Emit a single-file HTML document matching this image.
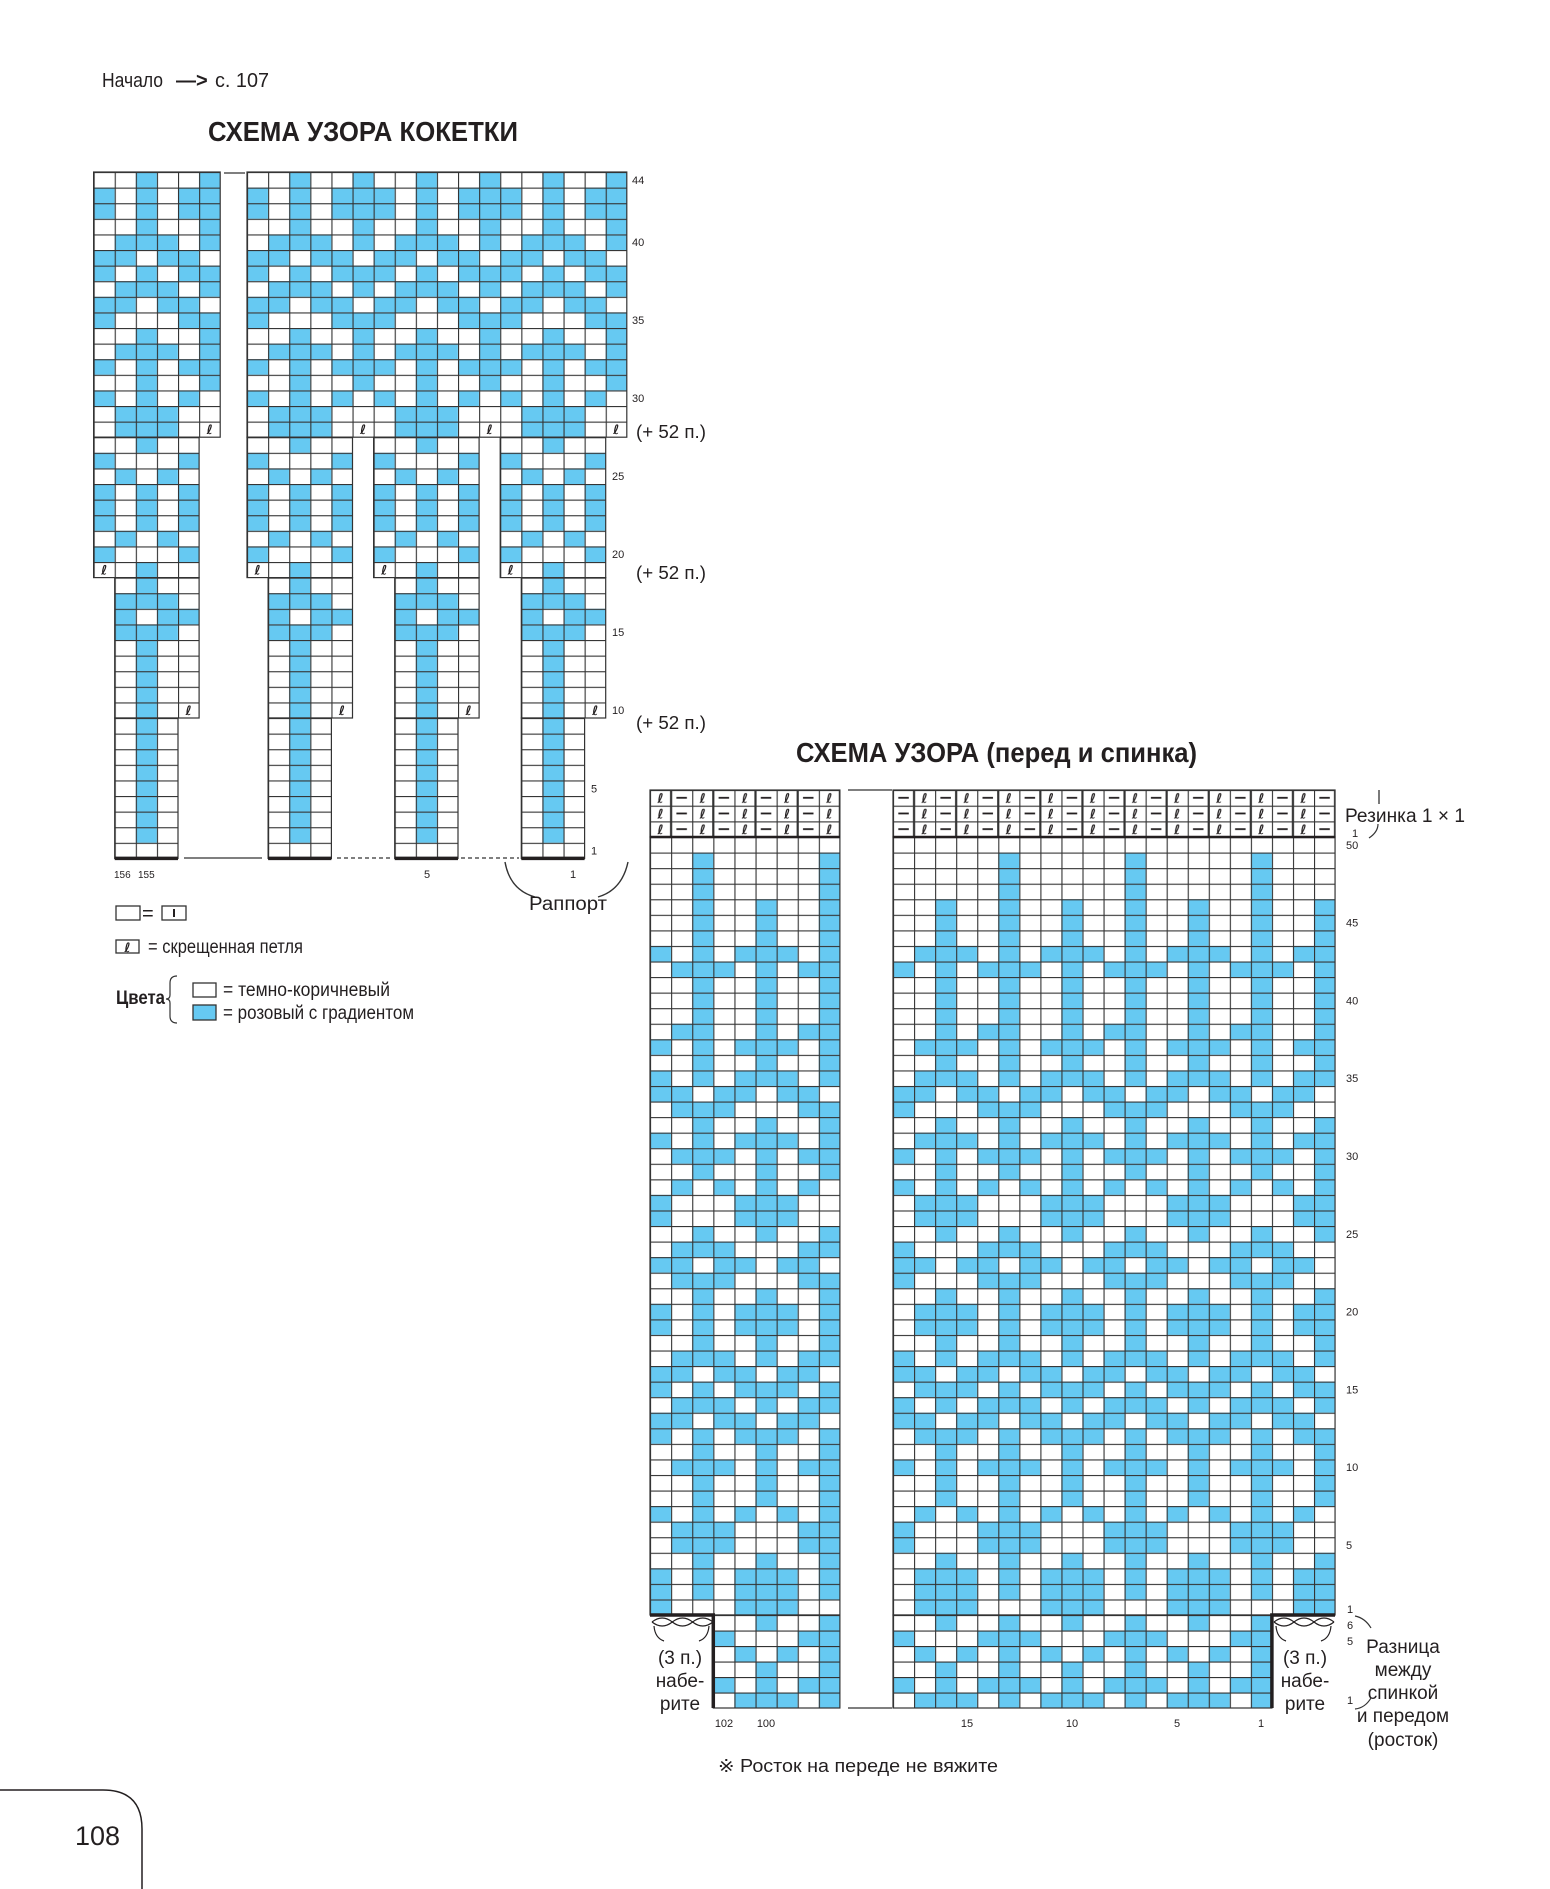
<!DOCTYPE html>
<html><head><meta charset="utf-8"><style>
html,body{margin:0;padding:0;background:#fff}
svg{display:block}
text{font-family:"Liberation Sans Narrow","Liberation Sans",sans-serif;fill:#231f20}
.l{font-family:"Liberation Sans",sans-serif;font-weight:300}
.bp rect{fill:#66c9f2}
.lp{font-family:"DejaVu Sans",sans-serif;font-weight:bold;font-size:13px}
.gr{stroke:#333;stroke-width:1.2}
</style></head><body>
<svg width="1550" height="1889" viewBox="0 0 1550 1889">
<defs>
<pattern id="r1" class="bp" patternUnits="userSpaceOnUse" x="893" y="0" width="126.3" height="2000"><rect x="105.25" width="21.05" height="2000"/></pattern>
<pattern id="r2" class="bp" patternUnits="userSpaceOnUse" x="893" y="0" width="126.3" height="2000"><rect x="42.1" width="21.05" height="2000"/><rect x="105.25" width="21.05" height="2000"/></pattern>
<pattern id="r3" class="bp" patternUnits="userSpaceOnUse" x="893" y="0" width="126.3" height="2000"><rect x="21.05" width="63.15" height="2000"/><rect x="105.25" width="21.05" height="2000"/></pattern>
<pattern id="r4" class="bp" patternUnits="userSpaceOnUse" x="893" y="0" width="126.3" height="2000"><rect x="0" width="21.05" height="2000"/><rect x="42.1" width="21.05" height="2000"/><rect x="84.2" width="42.1" height="2000"/></pattern>
<pattern id="r5" class="bp" patternUnits="userSpaceOnUse" x="893" y="0" width="126.3" height="2000"><rect x="42.1" width="21.05" height="2000"/><rect x="84.2" width="42.1" height="2000"/></pattern>
<pattern id="r6" class="bp" patternUnits="userSpaceOnUse" x="893" y="0" width="126.3" height="2000"><rect x="0" width="42.1" height="2000"/><rect x="63.15" width="42.1" height="2000"/></pattern>
<pattern id="r7" class="bp" patternUnits="userSpaceOnUse" x="893" y="0" width="126.3" height="2000"><rect x="0" width="21.05" height="2000"/><rect x="84.2" width="42.1" height="2000"/></pattern>
<pattern id="r8" class="bp" patternUnits="userSpaceOnUse" x="893" y="0" width="126.3" height="2000"><rect x="0" width="21.05" height="2000"/><rect x="42.1" width="21.05" height="2000"/><rect x="84.2" width="21.05" height="2000"/></pattern>
<pattern id="r9" class="bp" patternUnits="userSpaceOnUse" x="893" y="0" width="126.3" height="2000"><rect x="21.05" width="63.15" height="2000"/></pattern>
<pattern id="r10" class="bp" patternUnits="userSpaceOnUse" x="893" y="0" width="126.3" height="2000"><rect x="21.05" width="21.05" height="2000"/><rect x="63.15" width="21.05" height="2000"/><rect x="105.25" width="21.05" height="2000"/></pattern>
<pattern id="l1" class="bp" patternUnits="userSpaceOnUse" x="586.7" y="0" width="126.6" height="2000"><rect x="105.5" width="21.1" height="2000"/></pattern>
<pattern id="l2" class="bp" patternUnits="userSpaceOnUse" x="586.7" y="0" width="126.6" height="2000"><rect x="42.2" width="21.1" height="2000"/><rect x="105.5" width="21.1" height="2000"/></pattern>
<pattern id="l3" class="bp" patternUnits="userSpaceOnUse" x="586.7" y="0" width="126.6" height="2000"><rect x="21.1" width="63.3" height="2000"/><rect x="105.5" width="21.1" height="2000"/></pattern>
<pattern id="l4" class="bp" patternUnits="userSpaceOnUse" x="586.7" y="0" width="126.6" height="2000"><rect x="0" width="21.1" height="2000"/><rect x="42.2" width="21.1" height="2000"/><rect x="84.4" width="42.2" height="2000"/></pattern>
<pattern id="l5" class="bp" patternUnits="userSpaceOnUse" x="586.7" y="0" width="126.6" height="2000"><rect x="42.2" width="21.1" height="2000"/><rect x="84.4" width="42.2" height="2000"/></pattern>
<pattern id="l6" class="bp" patternUnits="userSpaceOnUse" x="586.7" y="0" width="126.6" height="2000"><rect x="0" width="42.2" height="2000"/><rect x="63.3" width="42.2" height="2000"/></pattern>
<pattern id="l7" class="bp" patternUnits="userSpaceOnUse" x="586.7" y="0" width="126.6" height="2000"><rect x="0" width="21.1" height="2000"/><rect x="84.4" width="42.2" height="2000"/></pattern>
<pattern id="l8" class="bp" patternUnits="userSpaceOnUse" x="586.7" y="0" width="126.6" height="2000"><rect x="0" width="21.1" height="2000"/><rect x="42.2" width="21.1" height="2000"/><rect x="84.4" width="21.1" height="2000"/></pattern>
<pattern id="l9" class="bp" patternUnits="userSpaceOnUse" x="586.7" y="0" width="126.6" height="2000"><rect x="21.1" width="63.3" height="2000"/></pattern>
<pattern id="l10" class="bp" patternUnits="userSpaceOnUse" x="586.7" y="0" width="126.6" height="2000"><rect x="21.1" width="21.1" height="2000"/><rect x="63.3" width="21.1" height="2000"/><rect x="105.5" width="21.1" height="2000"/></pattern>
<pattern id="a2" class="bp" patternUnits="userSpaceOnUse" x="93.6" y="0" width="126.6" height="2000"><rect x="42.2" width="21.1" height="2000"/><rect x="105.5" width="21.1" height="2000"/></pattern>
<pattern id="a3" class="bp" patternUnits="userSpaceOnUse" x="93.6" y="0" width="126.6" height="2000"><rect x="21.1" width="63.3" height="2000"/><rect x="105.5" width="21.1" height="2000"/></pattern>
<pattern id="a4" class="bp" patternUnits="userSpaceOnUse" x="93.6" y="0" width="126.6" height="2000"><rect x="0" width="21.1" height="2000"/><rect x="42.2" width="21.1" height="2000"/><rect x="84.4" width="42.2" height="2000"/></pattern>
<pattern id="a6" class="bp" patternUnits="userSpaceOnUse" x="93.6" y="0" width="126.6" height="2000"><rect x="0" width="42.2" height="2000"/><rect x="63.3" width="42.2" height="2000"/></pattern>
<pattern id="a7" class="bp" patternUnits="userSpaceOnUse" x="93.6" y="0" width="126.6" height="2000"><rect x="0" width="21.1" height="2000"/><rect x="84.4" width="42.2" height="2000"/></pattern>
<pattern id="a8" class="bp" patternUnits="userSpaceOnUse" x="93.6" y="0" width="126.6" height="2000"><rect x="0" width="21.1" height="2000"/><rect x="42.2" width="21.1" height="2000"/><rect x="84.4" width="21.1" height="2000"/></pattern>
<pattern id="a9" class="bp" patternUnits="userSpaceOnUse" x="93.6" y="0" width="126.6" height="2000"><rect x="21.1" width="63.3" height="2000"/></pattern>
<pattern id="a11" class="bp" patternUnits="userSpaceOnUse" x="93.6" y="0" width="126.6" height="2000"><rect x="42.2" width="21.1" height="2000"/></pattern>
<pattern id="a12" class="bp" patternUnits="userSpaceOnUse" x="93.6" y="0" width="126.6" height="2000"><rect x="0" width="21.1" height="2000"/><rect x="84.4" width="21.1" height="2000"/></pattern>
<pattern id="a13" class="bp" patternUnits="userSpaceOnUse" x="93.6" y="0" width="126.6" height="2000"><rect x="21.1" width="21.1" height="2000"/><rect x="63.3" width="21.1" height="2000"/></pattern>
<pattern id="a14" class="bp" patternUnits="userSpaceOnUse" x="93.6" y="0" width="126.6" height="2000"><rect x="21.1" width="21.1" height="2000"/><rect x="63.3" width="42.2" height="2000"/></pattern>
<pattern id="b2" class="bp" patternUnits="userSpaceOnUse" x="247" y="0" width="126.6" height="2000"><rect x="42.2" width="21.1" height="2000"/><rect x="105.5" width="21.1" height="2000"/></pattern>
<pattern id="b3" class="bp" patternUnits="userSpaceOnUse" x="247" y="0" width="126.6" height="2000"><rect x="21.1" width="63.3" height="2000"/><rect x="105.5" width="21.1" height="2000"/></pattern>
<pattern id="b4" class="bp" patternUnits="userSpaceOnUse" x="247" y="0" width="126.6" height="2000"><rect x="0" width="21.1" height="2000"/><rect x="42.2" width="21.1" height="2000"/><rect x="84.4" width="42.2" height="2000"/></pattern>
<pattern id="b6" class="bp" patternUnits="userSpaceOnUse" x="247" y="0" width="126.6" height="2000"><rect x="0" width="42.2" height="2000"/><rect x="63.3" width="42.2" height="2000"/></pattern>
<pattern id="b7" class="bp" patternUnits="userSpaceOnUse" x="247" y="0" width="126.6" height="2000"><rect x="0" width="21.1" height="2000"/><rect x="84.4" width="42.2" height="2000"/></pattern>
<pattern id="b8" class="bp" patternUnits="userSpaceOnUse" x="247" y="0" width="126.6" height="2000"><rect x="0" width="21.1" height="2000"/><rect x="42.2" width="21.1" height="2000"/><rect x="84.4" width="21.1" height="2000"/></pattern>
<pattern id="b9" class="bp" patternUnits="userSpaceOnUse" x="247" y="0" width="126.6" height="2000"><rect x="21.1" width="63.3" height="2000"/></pattern>
<pattern id="b11" class="bp" patternUnits="userSpaceOnUse" x="247" y="0" width="126.6" height="2000"><rect x="42.2" width="21.1" height="2000"/></pattern>
<pattern id="b12" class="bp" patternUnits="userSpaceOnUse" x="247" y="0" width="126.6" height="2000"><rect x="0" width="21.1" height="2000"/><rect x="84.4" width="21.1" height="2000"/></pattern>
<pattern id="b13" class="bp" patternUnits="userSpaceOnUse" x="247" y="0" width="126.6" height="2000"><rect x="21.1" width="21.1" height="2000"/><rect x="63.3" width="21.1" height="2000"/></pattern>
<pattern id="b14" class="bp" patternUnits="userSpaceOnUse" x="247" y="0" width="126.6" height="2000"><rect x="21.1" width="21.1" height="2000"/><rect x="63.3" width="42.2" height="2000"/></pattern>
<pattern id="gya" patternUnits="userSpaceOnUse" x="93.6" y="172" width="21.1" height="15.6"><path d="M0 0H21.1M0 0V15.6" stroke="#333" stroke-width="2.2" fill="none"/></pattern>
<pattern id="gyb" patternUnits="userSpaceOnUse" x="247" y="172" width="21.1" height="15.6"><path d="M0 0H21.1M0 0V15.6" stroke="#333" stroke-width="2.2" fill="none"/></pattern>
<pattern id="grl" patternUnits="userSpaceOnUse" x="650" y="837" width="21.1" height="15.56"><path d="M0 0H21.1M0 0V15.56" stroke="#333" stroke-width="2.2" fill="none"/></pattern>
<pattern id="grr" patternUnits="userSpaceOnUse" x="893" y="837" width="21.05" height="15.56"><path d="M0 0H21.05M0 0V15.56" stroke="#333" stroke-width="2.2" fill="none"/></pattern>
<pattern id="gsl" patternUnits="userSpaceOnUse" x="650" y="1615" width="21.1" height="15.5"><path d="M0 0H21.1M0 0V15.5" stroke="#333" stroke-width="2.2" fill="none"/></pattern>
<pattern id="gsr" patternUnits="userSpaceOnUse" x="893" y="1615" width="21.05" height="15.5"><path d="M0 0H21.05M0 0V15.5" stroke="#333" stroke-width="2.2" fill="none"/></pattern>
<pattern id="ribl" patternUnits="userSpaceOnUse" x="650" y="790" width="42.2" height="15.67"><path d="M0 0H42.2M0 0V15.67M21.1 0V15.67" stroke="#333" stroke-width="2.2" fill="none"/><line x1="26.4" y1="7.8" x2="36.9" y2="7.8" stroke="#231f20" stroke-width="1.8"/><text x="10.55" y="12.7" class="lp" text-anchor="middle">ℓ</text></pattern>
<pattern id="ribr" patternUnits="userSpaceOnUse" x="893" y="790" width="42.1" height="15.67"><path d="M0 0H42.1M0 0V15.67M21.05 0V15.67" stroke="#333" stroke-width="2.2" fill="none"/><line x1="5.3" y1="7.8" x2="15.8" y2="7.8" stroke="#231f20" stroke-width="1.8"/><text x="31.6" y="12.7" class="lp" text-anchor="middle">ℓ</text></pattern>
</defs>
<rect width="1550" height="1889" fill="#fff"/>
<text x="102" y="87" font-size="20" textLength="61" lengthAdjust="spacingAndGlyphs">Начало</text>
<text x="176" y="87" font-size="20" font-weight="bold">—&gt;</text>
<text x="215" y="87" font-size="20" textLength="54" lengthAdjust="spacingAndGlyphs">с. 107</text>
<text x="208" y="141" font-size="28" font-weight="bold" textLength="310" lengthAdjust="spacingAndGlyphs">СХЕМА УЗОРА КОКЕТКИ</text>
<text x="796" y="762" font-size="28" font-weight="bold" textLength="401" lengthAdjust="spacingAndGlyphs">СХЕМА УЗОРА (перед и спинка)</text>

<g>
<rect x="93.6" y="172" width="126.6" height="15.6" fill="url(#a2)"/><rect x="247" y="172" width="379.8" height="15.6" fill="url(#b2)"/>
<rect x="93.6" y="187.6" width="126.6" height="31.2" fill="url(#a4)"/><rect x="247" y="187.6" width="379.8" height="31.2" fill="url(#b4)"/>
<rect x="93.6" y="218.8" width="126.6" height="15.6" fill="url(#a2)"/><rect x="247" y="218.8" width="379.8" height="15.6" fill="url(#b2)"/>
<rect x="93.6" y="234.4" width="126.6" height="15.6" fill="url(#a3)"/><rect x="247" y="234.4" width="379.8" height="15.6" fill="url(#b3)"/>
<rect x="93.6" y="250" width="126.6" height="15.6" fill="url(#a6)"/><rect x="247" y="250" width="379.8" height="15.6" fill="url(#b6)"/>
<rect x="93.6" y="265.6" width="126.6" height="15.6" fill="url(#a4)"/><rect x="247" y="265.6" width="379.8" height="15.6" fill="url(#b4)"/>
<rect x="93.6" y="281.2" width="126.6" height="15.6" fill="url(#a3)"/><rect x="247" y="281.2" width="379.8" height="15.6" fill="url(#b3)"/>
<rect x="93.6" y="296.8" width="126.6" height="15.6" fill="url(#a6)"/><rect x="247" y="296.8" width="379.8" height="15.6" fill="url(#b6)"/>
<rect x="93.6" y="312.4" width="126.6" height="15.6" fill="url(#a7)"/><rect x="247" y="312.4" width="379.8" height="15.6" fill="url(#b7)"/>
<rect x="93.6" y="328" width="126.6" height="15.6" fill="url(#a2)"/><rect x="247" y="328" width="379.8" height="15.6" fill="url(#b2)"/>
<rect x="93.6" y="343.6" width="126.6" height="15.6" fill="url(#a3)"/><rect x="247" y="343.6" width="379.8" height="15.6" fill="url(#b3)"/>
<rect x="93.6" y="359.2" width="126.6" height="15.6" fill="url(#a4)"/><rect x="247" y="359.2" width="379.8" height="15.6" fill="url(#b4)"/>
<rect x="93.6" y="374.8" width="126.6" height="15.6" fill="url(#a2)"/><rect x="247" y="374.8" width="379.8" height="15.6" fill="url(#b2)"/>
<rect x="93.6" y="390.4" width="126.6" height="15.6" fill="url(#a8)"/><rect x="247" y="390.4" width="379.8" height="15.6" fill="url(#b8)"/>
<rect x="93.6" y="406" width="126.6" height="31.2" fill="url(#a9)"/><rect x="247" y="406" width="379.8" height="31.2" fill="url(#b9)"/>
<rect x="93.6" y="437.2" width="105.5" height="15.6" fill="url(#a11)"/><rect x="247" y="437.2" width="105.5" height="15.6" fill="url(#b11)"/><rect x="373.6" y="437.2" width="105.5" height="15.6" fill="url(#b11)"/><rect x="500.2" y="437.2" width="105.5" height="15.6" fill="url(#b11)"/>
<rect x="93.6" y="452.8" width="105.5" height="15.6" fill="url(#a12)"/><rect x="247" y="452.8" width="105.5" height="15.6" fill="url(#b12)"/><rect x="373.6" y="452.8" width="105.5" height="15.6" fill="url(#b12)"/><rect x="500.2" y="452.8" width="105.5" height="15.6" fill="url(#b12)"/>
<rect x="93.6" y="468.4" width="105.5" height="15.6" fill="url(#a13)"/><rect x="247" y="468.4" width="105.5" height="15.6" fill="url(#b13)"/><rect x="373.6" y="468.4" width="105.5" height="15.6" fill="url(#b13)"/><rect x="500.2" y="468.4" width="105.5" height="15.6" fill="url(#b13)"/>
<rect x="93.6" y="484" width="105.5" height="46.8" fill="url(#a8)"/><rect x="247" y="484" width="105.5" height="46.8" fill="url(#b8)"/><rect x="373.6" y="484" width="105.5" height="46.8" fill="url(#b8)"/><rect x="500.2" y="484" width="105.5" height="46.8" fill="url(#b8)"/>
<rect x="93.6" y="530.8" width="105.5" height="15.6" fill="url(#a13)"/><rect x="247" y="530.8" width="105.5" height="15.6" fill="url(#b13)"/><rect x="373.6" y="530.8" width="105.5" height="15.6" fill="url(#b13)"/><rect x="500.2" y="530.8" width="105.5" height="15.6" fill="url(#b13)"/>
<rect x="93.6" y="546.4" width="105.5" height="15.6" fill="url(#a12)"/><rect x="247" y="546.4" width="105.5" height="15.6" fill="url(#b12)"/><rect x="373.6" y="546.4" width="105.5" height="15.6" fill="url(#b12)"/><rect x="500.2" y="546.4" width="105.5" height="15.6" fill="url(#b12)"/>
<rect x="93.6" y="562" width="105.5" height="15.6" fill="url(#a11)"/><rect x="247" y="562" width="105.5" height="15.6" fill="url(#b11)"/><rect x="373.6" y="562" width="105.5" height="15.6" fill="url(#b11)"/><rect x="500.2" y="562" width="105.5" height="15.6" fill="url(#b11)"/>
<rect x="114.7" y="577.6" width="84.4" height="15.6" fill="url(#a11)"/><rect x="268.1" y="577.6" width="84.4" height="15.6" fill="url(#b11)"/><rect x="394.7" y="577.6" width="84.4" height="15.6" fill="url(#b11)"/><rect x="521.3" y="577.6" width="84.4" height="15.6" fill="url(#b11)"/>
<rect x="114.7" y="593.2" width="84.4" height="15.6" fill="url(#a9)"/><rect x="268.1" y="593.2" width="84.4" height="15.6" fill="url(#b9)"/><rect x="394.7" y="593.2" width="84.4" height="15.6" fill="url(#b9)"/><rect x="521.3" y="593.2" width="84.4" height="15.6" fill="url(#b9)"/>
<rect x="114.7" y="608.8" width="84.4" height="15.6" fill="url(#a14)"/><rect x="268.1" y="608.8" width="84.4" height="15.6" fill="url(#b14)"/><rect x="394.7" y="608.8" width="84.4" height="15.6" fill="url(#b14)"/><rect x="521.3" y="608.8" width="84.4" height="15.6" fill="url(#b14)"/>
<rect x="114.7" y="624.4" width="84.4" height="15.6" fill="url(#a9)"/><rect x="268.1" y="624.4" width="84.4" height="15.6" fill="url(#b9)"/><rect x="394.7" y="624.4" width="84.4" height="15.6" fill="url(#b9)"/><rect x="521.3" y="624.4" width="84.4" height="15.6" fill="url(#b9)"/>
<rect x="114.7" y="640" width="84.4" height="78" fill="url(#a11)"/><rect x="268.1" y="640" width="84.4" height="78" fill="url(#b11)"/><rect x="394.7" y="640" width="84.4" height="78" fill="url(#b11)"/><rect x="521.3" y="640" width="84.4" height="78" fill="url(#b11)"/>
<rect x="114.7" y="718" width="63.3" height="124.8" fill="url(#a11)"/><rect x="268.1" y="718" width="63.3" height="124.8" fill="url(#b11)"/><rect x="394.7" y="718" width="63.3" height="124.8" fill="url(#b11)"/><rect x="521.3" y="718" width="63.3" height="124.8" fill="url(#b11)"/>
<rect x="93.6" y="172" width="126.6" height="265.2" fill="url(#gya)" class="gr"/>
<rect x="247" y="172" width="379.8" height="265.2" fill="url(#gyb)" class="gr"/>
<rect x="93.6" y="437.2" width="105.5" height="140.4" fill="url(#gya)" class="gr"/>
<rect x="247" y="437.2" width="105.5" height="140.4" fill="url(#gyb)" class="gr"/>
<rect x="373.6" y="437.2" width="105.5" height="140.4" fill="url(#gyb)" class="gr"/>
<rect x="500.2" y="437.2" width="105.5" height="140.4" fill="url(#gyb)" class="gr"/>
<rect x="114.7" y="577.6" width="84.4" height="140.4" fill="url(#gya)" class="gr"/>
<rect x="268.1" y="577.6" width="84.4" height="140.4" fill="url(#gyb)" class="gr"/>
<rect x="394.7" y="577.6" width="84.4" height="140.4" fill="url(#gyb)" class="gr"/>
<rect x="521.3" y="577.6" width="84.4" height="140.4" fill="url(#gyb)" class="gr"/>
<rect x="114.7" y="718" width="63.3" height="140.4" fill="url(#gya)" class="gr"/>
<rect x="268.1" y="718" width="63.3" height="140.4" fill="url(#gyb)" class="gr"/>
<rect x="394.7" y="718" width="63.3" height="140.4" fill="url(#gyb)" class="gr"/>
<rect x="521.3" y="718" width="63.3" height="140.4" fill="url(#gyb)" class="gr"/>
<g text-anchor="middle">
<text class="lp" x="209.65" y="434">ℓ</text><text class="lp" x="363.05" y="434">ℓ</text><text class="lp" x="489.65" y="434">ℓ</text><text class="lp" x="616.25" y="434">ℓ</text>
<text class="lp" x="104.15" y="574.6">ℓ</text><text class="lp" x="257.55" y="574.6">ℓ</text><text class="lp" x="384.15" y="574.6">ℓ</text><text class="lp" x="510.75" y="574.6">ℓ</text>
<text class="lp" x="188.55" y="715">ℓ</text><text class="lp" x="341.95" y="715">ℓ</text><text class="lp" x="468.55" y="715">ℓ</text><text class="lp" x="595.15" y="715">ℓ</text>
</g>
<g stroke="#231f20" stroke-width="3.5">
<line x1="114.7" y1="858.4" x2="178" y2="858.4"/><line x1="268.1" y1="858.4" x2="331.4" y2="858.4"/><line x1="394.7" y1="858.4" x2="458" y2="858.4"/><line x1="521.3" y1="858.4" x2="584.6" y2="858.4"/>
</g>
<g font-size="11">
<text x="632" y="183.8">44</text><text x="632" y="246.2">40</text><text x="632" y="324.2">35</text><text x="632" y="402.2">30</text>
<text x="612" y="480.2">25</text><text x="612" y="558.2">20</text><text x="612" y="636.2">15</text><text x="612" y="714.2">10</text>
<text x="591" y="792.6">5</text><text x="591" y="854.6">1</text>
</g>
</g>

<rect x="650" y="790" width="189.9" height="47" fill="url(#ribl)" class="gr"/>
<rect x="893" y="790" width="442.05" height="47" fill="url(#ribr)" class="gr"/>
<g>
<rect x="650" y="852.56" width="189.9" height="46.68" fill="url(#l1)"/><rect x="893" y="852.56" width="442.05" height="46.68" fill="url(#r1)"/>
<rect x="650" y="899.24" width="189.9" height="46.68" fill="url(#l2)"/><rect x="893" y="899.24" width="442.05" height="46.68" fill="url(#r2)"/>
<rect x="650" y="945.92" width="189.9" height="15.56" fill="url(#l3)"/><rect x="893" y="945.92" width="442.05" height="15.56" fill="url(#r3)"/>
<rect x="650" y="961.48" width="189.9" height="15.56" fill="url(#l4)"/><rect x="893" y="961.48" width="442.05" height="15.56" fill="url(#r4)"/>
<rect x="650" y="977.04" width="189.9" height="46.68" fill="url(#l2)"/><rect x="893" y="977.04" width="442.05" height="46.68" fill="url(#r2)"/>
<rect x="650" y="1023.72" width="189.9" height="15.56" fill="url(#l5)"/><rect x="893" y="1023.72" width="442.05" height="15.56" fill="url(#r5)"/>
<rect x="650" y="1039.28" width="189.9" height="15.56" fill="url(#l3)"/><rect x="893" y="1039.28" width="442.05" height="15.56" fill="url(#r3)"/>
<rect x="650" y="1054.84" width="189.9" height="15.56" fill="url(#l2)"/><rect x="893" y="1054.84" width="442.05" height="15.56" fill="url(#r2)"/>
<rect x="650" y="1070.4" width="189.9" height="15.56" fill="url(#l3)"/><rect x="893" y="1070.4" width="442.05" height="15.56" fill="url(#r3)"/>
<rect x="650" y="1085.96" width="189.9" height="15.56" fill="url(#l6)"/><rect x="893" y="1085.96" width="442.05" height="15.56" fill="url(#r6)"/>
<rect x="650" y="1101.52" width="189.9" height="15.56" fill="url(#l7)"/><rect x="893" y="1101.52" width="442.05" height="15.56" fill="url(#r7)"/>
<rect x="650" y="1117.08" width="189.9" height="15.56" fill="url(#l2)"/><rect x="893" y="1117.08" width="442.05" height="15.56" fill="url(#r2)"/>
<rect x="650" y="1132.64" width="189.9" height="15.56" fill="url(#l3)"/><rect x="893" y="1132.64" width="442.05" height="15.56" fill="url(#r3)"/>
<rect x="650" y="1148.2" width="189.9" height="15.56" fill="url(#l4)"/><rect x="893" y="1148.2" width="442.05" height="15.56" fill="url(#r4)"/>
<rect x="650" y="1163.76" width="189.9" height="15.56" fill="url(#l2)"/><rect x="893" y="1163.76" width="442.05" height="15.56" fill="url(#r2)"/>
<rect x="650" y="1179.32" width="189.9" height="15.56" fill="url(#l8)"/><rect x="893" y="1179.32" width="442.05" height="15.56" fill="url(#r8)"/>
<rect x="650" y="1194.88" width="189.9" height="31.12" fill="url(#l9)"/><rect x="893" y="1194.88" width="442.05" height="31.12" fill="url(#r9)"/>
<rect x="650" y="1226" width="189.9" height="15.56" fill="url(#l2)"/><rect x="893" y="1226" width="442.05" height="15.56" fill="url(#r2)"/>
<rect x="650" y="1241.56" width="189.9" height="15.56" fill="url(#l7)"/><rect x="893" y="1241.56" width="442.05" height="15.56" fill="url(#r7)"/>
<rect x="650" y="1257.12" width="189.9" height="15.56" fill="url(#l6)"/><rect x="893" y="1257.12" width="442.05" height="15.56" fill="url(#r6)"/>
<rect x="650" y="1272.68" width="189.9" height="15.56" fill="url(#l7)"/><rect x="893" y="1272.68" width="442.05" height="15.56" fill="url(#r7)"/>
<rect x="650" y="1288.24" width="189.9" height="15.56" fill="url(#l2)"/><rect x="893" y="1288.24" width="442.05" height="15.56" fill="url(#r2)"/>
<rect x="650" y="1303.8" width="189.9" height="31.12" fill="url(#l3)"/><rect x="893" y="1303.8" width="442.05" height="31.12" fill="url(#r3)"/>
<rect x="650" y="1334.92" width="189.9" height="15.56" fill="url(#l2)"/><rect x="893" y="1334.92" width="442.05" height="15.56" fill="url(#r2)"/>
<rect x="650" y="1350.48" width="189.9" height="15.56" fill="url(#l4)"/><rect x="893" y="1350.48" width="442.05" height="15.56" fill="url(#r4)"/>
<rect x="650" y="1366.04" width="189.9" height="15.56" fill="url(#l6)"/><rect x="893" y="1366.04" width="442.05" height="15.56" fill="url(#r6)"/>
<rect x="650" y="1381.6" width="189.9" height="15.56" fill="url(#l3)"/><rect x="893" y="1381.6" width="442.05" height="15.56" fill="url(#r3)"/>
<rect x="650" y="1397.16" width="189.9" height="15.56" fill="url(#l4)"/><rect x="893" y="1397.16" width="442.05" height="15.56" fill="url(#r4)"/>
<rect x="650" y="1412.72" width="189.9" height="15.56" fill="url(#l6)"/><rect x="893" y="1412.72" width="442.05" height="15.56" fill="url(#r6)"/>
<rect x="650" y="1428.28" width="189.9" height="15.56" fill="url(#l3)"/><rect x="893" y="1428.28" width="442.05" height="15.56" fill="url(#r3)"/>
<rect x="650" y="1443.84" width="189.9" height="15.56" fill="url(#l2)"/><rect x="893" y="1443.84" width="442.05" height="15.56" fill="url(#r2)"/>
<rect x="650" y="1459.4" width="189.9" height="15.56" fill="url(#l4)"/><rect x="893" y="1459.4" width="442.05" height="15.56" fill="url(#r4)"/>
<rect x="650" y="1474.96" width="189.9" height="31.12" fill="url(#l2)"/><rect x="893" y="1474.96" width="442.05" height="31.12" fill="url(#r2)"/>
<rect x="650" y="1506.08" width="189.9" height="15.56" fill="url(#l10)"/><rect x="893" y="1506.08" width="442.05" height="15.56" fill="url(#r10)"/>
<rect x="650" y="1521.64" width="189.9" height="31.12" fill="url(#l7)"/><rect x="893" y="1521.64" width="442.05" height="31.12" fill="url(#r7)"/>
<rect x="650" y="1552.76" width="189.9" height="15.56" fill="url(#l2)"/><rect x="893" y="1552.76" width="442.05" height="15.56" fill="url(#r2)"/>
<rect x="650" y="1568.32" width="189.9" height="31.12" fill="url(#l3)"/><rect x="893" y="1568.32" width="442.05" height="31.12" fill="url(#r3)"/>
<rect x="650" y="1599.44" width="189.9" height="15.56" fill="url(#l9)"/><rect x="893" y="1599.44" width="442.05" height="15.56" fill="url(#r9)"/>
<rect x="713.3" y="1615" width="126.6" height="15.5" fill="url(#l2)"/><rect x="893" y="1615" width="378.9" height="15.5" fill="url(#r2)"/>
<rect x="713.3" y="1630.5" width="126.6" height="15.5" fill="url(#l7)"/><rect x="893" y="1630.5" width="378.9" height="15.5" fill="url(#r7)"/>
<rect x="713.3" y="1646" width="126.6" height="15.5" fill="url(#l10)"/><rect x="893" y="1646" width="378.9" height="15.5" fill="url(#r10)"/>
<rect x="713.3" y="1661.5" width="126.6" height="15.5" fill="url(#l2)"/><rect x="893" y="1661.5" width="378.9" height="15.5" fill="url(#r2)"/>
<rect x="713.3" y="1677" width="126.6" height="15.5" fill="url(#l4)"/><rect x="893" y="1677" width="378.9" height="15.5" fill="url(#r4)"/>
<rect x="713.3" y="1692.5" width="126.6" height="15.5" fill="url(#l3)"/><rect x="893" y="1692.5" width="378.9" height="15.5" fill="url(#r3)"/>
</g>
<rect x="650" y="837" width="189.9" height="778" fill="url(#grl)" class="gr"/>
<rect x="893" y="837" width="442.05" height="778" fill="url(#grr)" class="gr"/>
<rect x="713.3" y="1615" width="126.6" height="93" fill="url(#gsl)" class="gr"/>
<rect x="893" y="1615" width="378.9" height="93" fill="url(#gsr)" class="gr"/>
<g stroke="#231f20" fill="none">
<line x1="650" y1="837" x2="839.9" y2="837" stroke-width="2.5"/>
<line x1="893" y1="837" x2="1335" y2="837" stroke-width="2.5"/>
<path d="M650 1615 H713.3 V1708" stroke-width="3.5"/>
<path d="M1335 1615 H1271.9 V1708" stroke-width="3.5"/>
<g stroke-width="1.2">
<path d="M652 1622 Q662.2 1614 672.3 1622 Q682.5 1614 692.6 1622 Q702.8 1614 712.9 1622"/>
<path d="M652 1622 Q662.2 1630 672.3 1622 Q682.5 1630 692.6 1622 Q702.8 1630 712.9 1622"/>
<path d="M654 1626 Q655 1638 664 1641"/><path d="M709 1626 Q708 1638 699 1641"/>
<path d="M1274 1622 Q1284 1614 1294 1622 Q1304 1614 1314 1622 Q1324 1614 1334 1622"/>
<path d="M1274 1622 Q1284 1630 1294 1622 Q1304 1630 1314 1622 Q1324 1630 1334 1622"/>
<path d="M1276 1626 Q1277 1638 1286 1641"/><path d="M1331 1626 Q1330 1638 1321 1641"/>
</g>
</g>
<g font-size="11">
<text x="1346" y="848.8">50</text><text x="1346" y="926.6">45</text><text x="1346" y="1004.4">40</text><text x="1346" y="1082.2">35</text><text x="1346" y="1160">30</text>
<text x="1346" y="1237.8">25</text><text x="1346" y="1315.6">20</text><text x="1346" y="1393.4">15</text><text x="1346" y="1471.2">10</text><text x="1346" y="1549">5</text>
</g>
<g font-size="11" text-anchor="middle">
<text x="724" y="1727">102</text><text x="766" y="1727">100</text>
<text x="967" y="1727">15</text><text x="1072" y="1727">10</text><text x="1177" y="1727">5</text><text x="1261" y="1727">1</text>
</g>

<rect x="116" y="906" width="24" height="14" fill="#fff" stroke="#333" stroke-width="1.3"/>
<text x="142" y="920" font-size="20">=</text>
<rect x="162" y="906" width="24" height="14" fill="#fff" stroke="#333" stroke-width="1.3"/>
<line x1="174" y1="909" x2="174" y2="917" stroke="#231f20" stroke-width="2"/>
<rect x="116" y="940" width="23" height="13" fill="#fff" stroke="#333" stroke-width="1.3"/>
<text x="127.5" y="952" class="lp" text-anchor="middle">ℓ</text>
<text x="148" y="953" font-size="19" textLength="155" lengthAdjust="spacingAndGlyphs">= скрещенная петля</text>
<text x="116" y="1004" font-size="19" font-weight="bold" textLength="49" lengthAdjust="spacingAndGlyphs">Цвета</text>
<path d="M177 976 Q170 976 170 983 V995 Q170 999 166 999 Q170 999 170 1003 V1016 Q170 1023 177 1023" fill="none" stroke="#333" stroke-width="1.2"/>
<rect x="193" y="983" width="23" height="14" fill="#fff" stroke="#333" stroke-width="1.3"/>
<rect x="193" y="1005" width="23" height="15" fill="#66c9f2" stroke="#333" stroke-width="1.3"/>
<text x="223" y="996" font-size="19" textLength="167" lengthAdjust="spacingAndGlyphs">= темно-коричневый</text>
<text x="223" y="1019" font-size="19" textLength="191" lengthAdjust="spacingAndGlyphs">= розовый с градиентом</text>
<text class="l" x="636" y="438" font-size="18" textLength="70" lengthAdjust="spacingAndGlyphs">(+ 52 п.)</text>
<text class="l" x="636" y="579" font-size="18" textLength="70" lengthAdjust="spacingAndGlyphs">(+ 52 п.)</text>
<text class="l" x="636" y="729" font-size="18" textLength="70" lengthAdjust="spacingAndGlyphs">(+ 52 п.)</text>
<text x="114" y="878" font-size="10">156</text>
<text x="138" y="878" font-size="10">155</text>
<text x="427" y="878" font-size="11" text-anchor="middle">5</text>
<text x="573" y="878" font-size="11" text-anchor="middle">1</text>
<path d="M505 862 Q510 890 535 897" fill="none" stroke="#333" stroke-width="1.4"/>
<path d="M628 862 Q622 890 598 897" fill="none" stroke="#333" stroke-width="1.4"/>
<text class="l" x="529" y="910" font-size="19" textLength="78" lengthAdjust="spacingAndGlyphs">Раппорт</text>
<line x1="224" y1="173" x2="245" y2="173" stroke="#333" stroke-width="1.3"/>
<line x1="184" y1="858" x2="262" y2="858" stroke="#333" stroke-width="1.3"/>
<line x1="337" y1="858" x2="392" y2="858" stroke="#333" stroke-width="1.3" stroke-dasharray="4,3"/>
<line x1="461" y1="858" x2="519" y2="858" stroke="#333" stroke-width="1.3" stroke-dasharray="4,3"/>
<line x1="848" y1="790" x2="892" y2="790" stroke="#333" stroke-width="1.3"/>
<line x1="848" y1="1708" x2="892" y2="1708" stroke="#333" stroke-width="1.3"/>
<line x1="1379" y1="790" x2="1379" y2="804" stroke="#333" stroke-width="1.3"/>
<text class="l" x="1345" y="822" font-size="19" textLength="120" lengthAdjust="spacingAndGlyphs">Резинка 1 × 1</text>
<text x="1352" y="837" font-size="11">1</text>
<path d="M1378 824 Q1378 832 1369 838" fill="none" stroke="#333" stroke-width="1.2"/>
<text x="1347" y="1613" font-size="11">1</text>
<text x="1347" y="1629" font-size="11">6</text>
<text x="1347" y="1645" font-size="11">5</text>
<text x="1347" y="1704" font-size="11">1</text>
<path d="M1355 1616 Q1365 1618 1371 1628" fill="none" stroke="#333" stroke-width="1.2"/>
<path d="M1355 1709 Q1365 1708 1371 1698" fill="none" stroke="#333" stroke-width="1.2"/>
<g font-size="19" text-anchor="middle">
<text class="l" x="1403" y="1653">Разница</text>
<text class="l" x="1403" y="1676">между</text>
<text class="l" x="1403" y="1699">спинкой</text>
<text class="l" x="1403" y="1722">и передом</text>
<text class="l" x="1403" y="1746">(росток)</text>
<text class="l" x="1305" y="1664">(3 п.)</text>
<text class="l" x="1305" y="1687">набе-</text>
<text class="l" x="1305" y="1710">рите</text>
<text class="l" x="680" y="1664">(3 п.)</text>
<text class="l" x="680" y="1687">набе-</text>
<text class="l" x="680" y="1710">рите</text>
</g>
<text class="l" x="718" y="1772" font-size="18" textLength="280" lengthAdjust="spacingAndGlyphs">※ Росток на переде не вяжите</text>
<path d="M0 1790 H103 Q142 1790 142 1829 V1889" fill="none" stroke="#231f20" stroke-width="1.5"/>
<text class="l" x="75" y="1845" font-size="27">108</text>
</svg>
</body></html>
